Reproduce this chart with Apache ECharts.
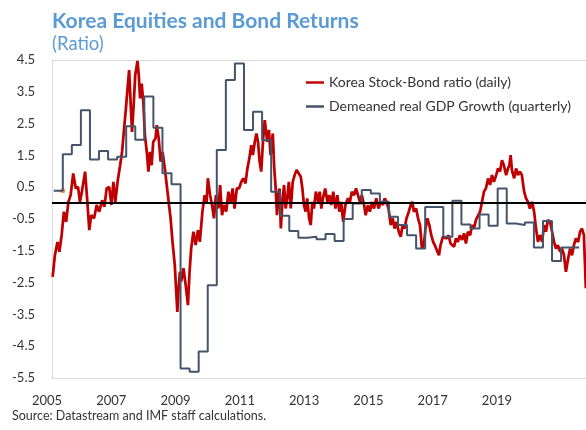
<!DOCTYPE html>
<html>
<head>
<meta charset="utf-8">
<script src="https://cdn.jsdelivr.net/npm/echarts@6/dist/echarts.min.js"></script>
<style>
  html, body { margin: 0; padding: 0; background: #fff; }
  #chart { width: 586px; height: 430px; }
</style>
</head>
<body>
<div id="chart"></div>
<script>
// x axis tick labels (years) and y axis tick labels
const yearTicks = [2005, 2007, 2009, 2011, 2013, 2015, 2017, 2019]
const ratioTicks = [-5.5, -4.5, -3.5, -2.5, -1.5, -0.5, 0.5, 1.5, 2.5, 3.5, 4.5]

// Korea stock-bond ratio (decimal years on the date axis)
const ratioYears = [
  2005.02, 2005.09, 2005.17, 2005.23, 2005.30, 2005.37, 2005.44, 2005.51, 2005.58, 2005.66, 2005.74, 2005.81, 2005.87, 2005.93,
  2006.03, 2006.10, 2006.16, 2006.22, 2006.31, 2006.39, 2006.47, 2006.56, 2006.63, 2006.70, 2006.78, 2006.85, 2006.91, 2006.97,
  2007.04, 2007.12, 2007.18, 2007.24, 2007.30, 2007.35, 2007.40, 2007.44, 2007.49, 2007.54, 2007.59, 2007.66, 2007.70, 2007.74, 2007.79, 2007.84, 2007.89, 2007.95,
  2008.00, 2008.05, 2008.10, 2008.15, 2008.22, 2008.26, 2008.32, 2008.38, 2008.44, 2008.51, 2008.57, 2008.63, 2008.69, 2008.75, 2008.82, 2008.86, 2008.90, 2008.94, 2008.98,
  2009.02, 2009.09, 2009.11, 2009.16, 2009.23, 2009.28, 2009.33, 2009.40, 2009.47, 2009.54, 2009.60, 2009.68, 2009.75, 2009.81, 2009.85, 2009.92, 2009.98,
  2010.04, 2010.10, 2010.18, 2010.23, 2010.29, 2010.35, 2010.42, 2010.49, 2010.56, 2010.62, 2010.68, 2010.75, 2010.82, 2010.89, 2010.95,
  2011.02, 2011.08, 2011.14, 2011.20, 2011.25, 2011.31, 2011.36, 2011.41, 2011.46, 2011.51, 2011.57, 2011.62, 2011.66, 2011.70, 2011.75, 2011.80, 2011.87, 2011.91, 2011.96,
  2012.00, 2012.04, 2012.08, 2012.12, 2012.17, 2012.22, 2012.27, 2012.32, 2012.37, 2012.43, 2012.49, 2012.55, 2012.61, 2012.67, 2012.74, 2012.79, 2012.84, 2012.89, 2012.94,
  2013.00, 2013.05, 2013.10, 2013.15, 2013.21, 2013.28, 2013.33, 2013.38, 2013.43, 2013.50, 2013.57, 2013.63, 2013.69, 2013.75, 2013.82, 2013.88, 2013.94,
  2014.00, 2014.06, 2014.13, 2014.21, 2014.27, 2014.33, 2014.40, 2014.46, 2014.52, 2014.58, 2014.64, 2014.71, 2014.76, 2014.83, 2014.89, 2014.96,
  2015.02, 2015.09, 2015.16, 2015.23, 2015.30, 2015.35, 2015.41, 2015.47, 2015.54, 2015.60, 2015.66, 2015.72, 2015.79, 2015.85, 2015.91, 2015.97,
  2016.03, 2016.10, 2016.16, 2016.21, 2016.26, 2016.33, 2016.39, 2016.45, 2016.51, 2016.57, 2016.62, 2016.68, 2016.74, 2016.80, 2016.86, 2016.93, 2016.99,
  2017.04, 2017.09, 2017.16, 2017.22, 2017.28, 2017.34, 2017.40, 2017.45, 2017.51, 2017.57, 2017.63, 2017.69, 2017.76, 2017.82, 2017.88, 2017.94,
  2018.01, 2018.07, 2018.13, 2018.19, 2018.25, 2018.32, 2018.38, 2018.44, 2018.50, 2018.57, 2018.63, 2018.69, 2018.75, 2018.82, 2018.88, 2018.94,
  2019.00, 2019.06, 2019.13, 2019.19, 2019.23, 2019.27, 2019.31, 2019.38, 2019.44, 2019.50, 2019.56, 2019.62, 2019.69, 2019.75, 2019.81, 2019.87, 2019.94,
  2020.00, 2020.06, 2020.12, 2020.18, 2020.25, 2020.31, 2020.37, 2020.43, 2020.50, 2020.56, 2020.62, 2020.68, 2020.74, 2020.81, 2020.87, 2020.93, 2020.99,
  2021.06, 2021.12, 2021.18, 2021.24, 2021.30, 2021.37, 2021.43, 2021.49, 2021.55, 2021.58, 2021.61
]
const ratioValues = [
  -2.32, -1.64, -1.22, -1.53, -1.01, -0.27, -0.59, 0.04, 0.25, 0.93, 0.46, 0.51, 0.04, 0.36,
  0.99, 0.04, -0.85, -0.38, -0.48, -0.06, -0.27, 0.09, -0.12, 0.46, 0.51, -0.06, 0.67, 0.04,
  0.67, 1.19, 1.61, 2.30, 2.98, 3.61, 4.18, 3.29, 2.24, 3.08, 4.03, 4.47, 4.03, 3.29, 3.76, 3.19, 2.14, 1.61,
  0.99, 1.61, 1.19, 1.93, 2.03, 2.45, 2.03, 1.30, 1.61, 1.09, 0.57, 0.04, -0.48, -1.22, -1.95, -2.68, -3.42, -2.68, -2.16,
  -2.47, -2.05, -2.05, -2.58, -3.21, -2.16, -1.43, -0.90, -1.32, -0.85, -1.22, -0.27, 0.25, 0.04, 0.78, 0.25, -0.06,
  -0.48, 0.25, -0.17, 0.57, -0.38, -0.06, -0.27, 0.36, -0.01, 0.46, -0.17, 0.46, 0.46, 0.67, 0.78,
  0.62, 1.09, 1.40, 1.82, 1.51, 1.93, 2.19, 1.93, 1.30, 0.99, 2.03, 2.61, 2.24, 1.93, 2.30, 1.51, 2.19, 1.19, 0.46,
  -0.38, 0.25, 0.46, -0.80, 0.04, 0.57, -0.17, 0.15, 0.67, -0.17, 0.67, 0.88, 1.04, 1.09, 0.83, 0.46, -0.06, -0.27, 0.15,
  -0.48, -0.69, 0.04, -0.17, 0.36, 0.04, 0.36, -0.17, 0.15, 0.46, 0.04, 0.25, -0.06, 0.36, -0.17, 0.25, -0.27,
  0.04, -0.59, -0.06, 0.15, 0.04, 0.36, 0.25, 0.46, 0.41, 0.04, 0.25, -0.06, -0.38, -0.06, -0.27, 0.04,
  -0.17, 0.15, -0.17, 0.04, -0.06, 0.15, 0.04, -0.17, -0.69, -0.48, -0.80, -0.59, -0.90, -1.06, -0.69, -0.80,
  -0.48, -0.27, -0.06, 0.04, -0.27, -0.17, -0.48, -0.69, -1.43, -1.32, -0.80, -0.48, -0.69, -1.01, -1.22, -1.37, -1.32,
  -1.64, -1.32, -1.06, -1.01, -1.11, -1.01, -1.27, -1.22, -1.37, -1.11, -1.22, -1.01, -1.16, -0.95, -1.27, -0.90,
  -1.01, -0.69, -0.80, -0.53, -0.59, -0.27, 0.04, 0.36, 0.46, 0.78, 0.57, 0.88, 0.67, 0.88, 1.09, 0.99,
  1.35, 1.19, 0.88, 1.09, 1.19, 1.51, 1.04, 0.78, 1.09, 0.88, 0.99, 0.88, 0.36, 0.15, 0.04, -0.17, 0.04,
  -0.27, -0.80, -1.22, -1.01, -1.22, -0.69, -0.90, -0.53, -0.59, -0.90, -1.22, -1.43, -1.32, -1.53, -1.43, -1.64, -2.16,
  -1.74, -1.43, -1.64, -1.32, -1.11, -1.22, -0.90, -0.80, -1.01, -1.84, -2.68
]

// demeaned real GDP growth, one value per quarter (plotted on its own quarter axis)
const gdpValues = [
  0.39, 1.54, 1.83, 2.92, 1.37, 1.64, 1.37, 1.46, 2.42, 1.99, 3.35, 2.37, 0.94, 0.59,
  -5.2, -5.3, -4.67, -2.58, 1.67, 3.87, 4.39, 2.30, 2.87, 1.98, 0.36, -0.40, -0.88, -1.09,
  -1.06, -1.14, -0.97, -1.19, -0.50, -0.01, 0.41, 0.30, 0.04, -0.43, -0.69, -1.01, -1.43, -0.12,
  -0.12, -1.06, 0.07, -0.67, -0.80, -0.36, -0.71, 0.46, -0.64, -0.69, -0.61, -1.40, -0.56, -1.82,
  -1.40, -1.40
]

const RED = '#c00000'
const SLATE = '#44546a'
const TITLE_BLUE = '#5b9bd5'
const BORDER = '#d9d9d9'
const TEXT = '#333'
const FONT = 'Lato'

const ratioData = ratioYears.map((t, i) => [t, ratioValues[i]])
// each quarter holds its value until the next one starts
const gdpData = gdpValues.map((v, i) => [i, v])
gdpData.push([gdpValues.length, gdpValues[gdpValues.length - 1]])

const chart = echarts.init(document.getElementById('chart'), null, { renderer: 'canvas' })

chart.setOption({
  animation: false,
  textStyle: { fontFamily: FONT },
  title: {
    text: 'Korea Equities and Bond Returns',
    subtext: '(Ratio)',
    left: 52,
    top: 11,
    padding: 0,
    itemGap: 3,
    textStyle: { color: TITLE_BLUE, fontSize: 21, fontWeight: 'bold', fontFamily: FONT },
    subtextStyle: { color: TITLE_BLUE, fontSize: 18.5, fontFamily: FONT }
  },
  legend: {
    orient: 'vertical',
    left: 306,
    top: 74,
    padding: 0,
    itemWidth: 18,
    itemHeight: 2.5,
    itemGap: 7,
    textStyle: { fontSize: 14, color: TEXT, fontFamily: FONT, lineHeight: 17 },
    data: [
      { name: 'Korea Stock-Bond ratio (daily)', icon: 'rect' },
      { name: 'Demeaned real GDP Growth (quarterly)', icon: 'rect' }
    ]
  },
  grid: { left: 52, right: 0, top: 60, bottom: 52 },
  xAxis: [
    {
      type: 'value',
      min: 2005,
      max: 2021.615,
      axisLine: { show: true, onZero: false, lineStyle: { color: BORDER, width: 1 } },
      axisTick: { show: false },
      splitLine: { show: false },
      axisLabel: {
        customValues: yearTicks,
        formatter: (v) => '{y|' + v + '}',
        margin: 16,
        rich: {
          y: { fontSize: 13, color: TEXT, fontFamily: FONT, padding: [0, 10, 0, 0] }
        }
      }
    },
    {
      // quarter axis for the GDP series, drawn as the top border
      type: 'value',
      position: 'top',
      min: -0.19,
      max: 58.75,
      axisLine: { show: true, onZero: false, lineStyle: { color: BORDER, width: 1 } },
      axisTick: { show: false },
      axisLabel: { show: false },
      splitLine: { show: false }
    }
  ],
  yAxis: {
    type: 'value',
    min: -5.5,
    max: 4.5,
    axisLine: { show: true, onZero: false, lineStyle: { color: BORDER, width: 1 } },
    axisTick: { show: false },
    splitLine: { show: false },
    axisLabel: {
      customValues: ratioTicks,
      formatter: (v) => v.toFixed(1),
      margin: 17,
      fontSize: 13,
      color: TEXT
    }
  },
  series: [
    {
      name: 'Korea Stock-Bond ratio (daily)',
      type: 'line',
      xAxisIndex: 0,
      data: ratioData,
      symbol: 'none',
      lineStyle: { color: RED, width: 2.75 },
      itemStyle: { color: RED },
      markLine: {
        silent: true,
        symbol: ['none', 'none'],
        label: { show: false },
        lineStyle: { color: '#000', width: 2, type: 'solid' },
        data: [{ yAxis: 0 }]
      }
    },
    {
      name: 'Demeaned real GDP Growth (quarterly)',
      type: 'line',
      xAxisIndex: 1,
      step: 'end',
      data: gdpData,
      symbol: 'none',
      lineStyle: { color: SLATE, width: 2 },
      itemStyle: { color: SLATE }
    },
    {
      // small orange marker sitting at the end of the first quarter
      type: 'scatter',
      xAxisIndex: 1,
      data: [[1, gdpValues[0]]],
      symbolSize: 5,
      itemStyle: { color: '#ed7d31' },
      silent: true
    }
  ],
  graphic: [
    {
      type: 'text',
      left: 12,
      top: 409,
      style: {
        text: 'Source: Datastream and IMF staff calculations.',
        fontSize: 12.5,
        fontFamily: FONT,
        fill: TEXT
      }
    }
  ]
})
</script>
</body>
</html>
